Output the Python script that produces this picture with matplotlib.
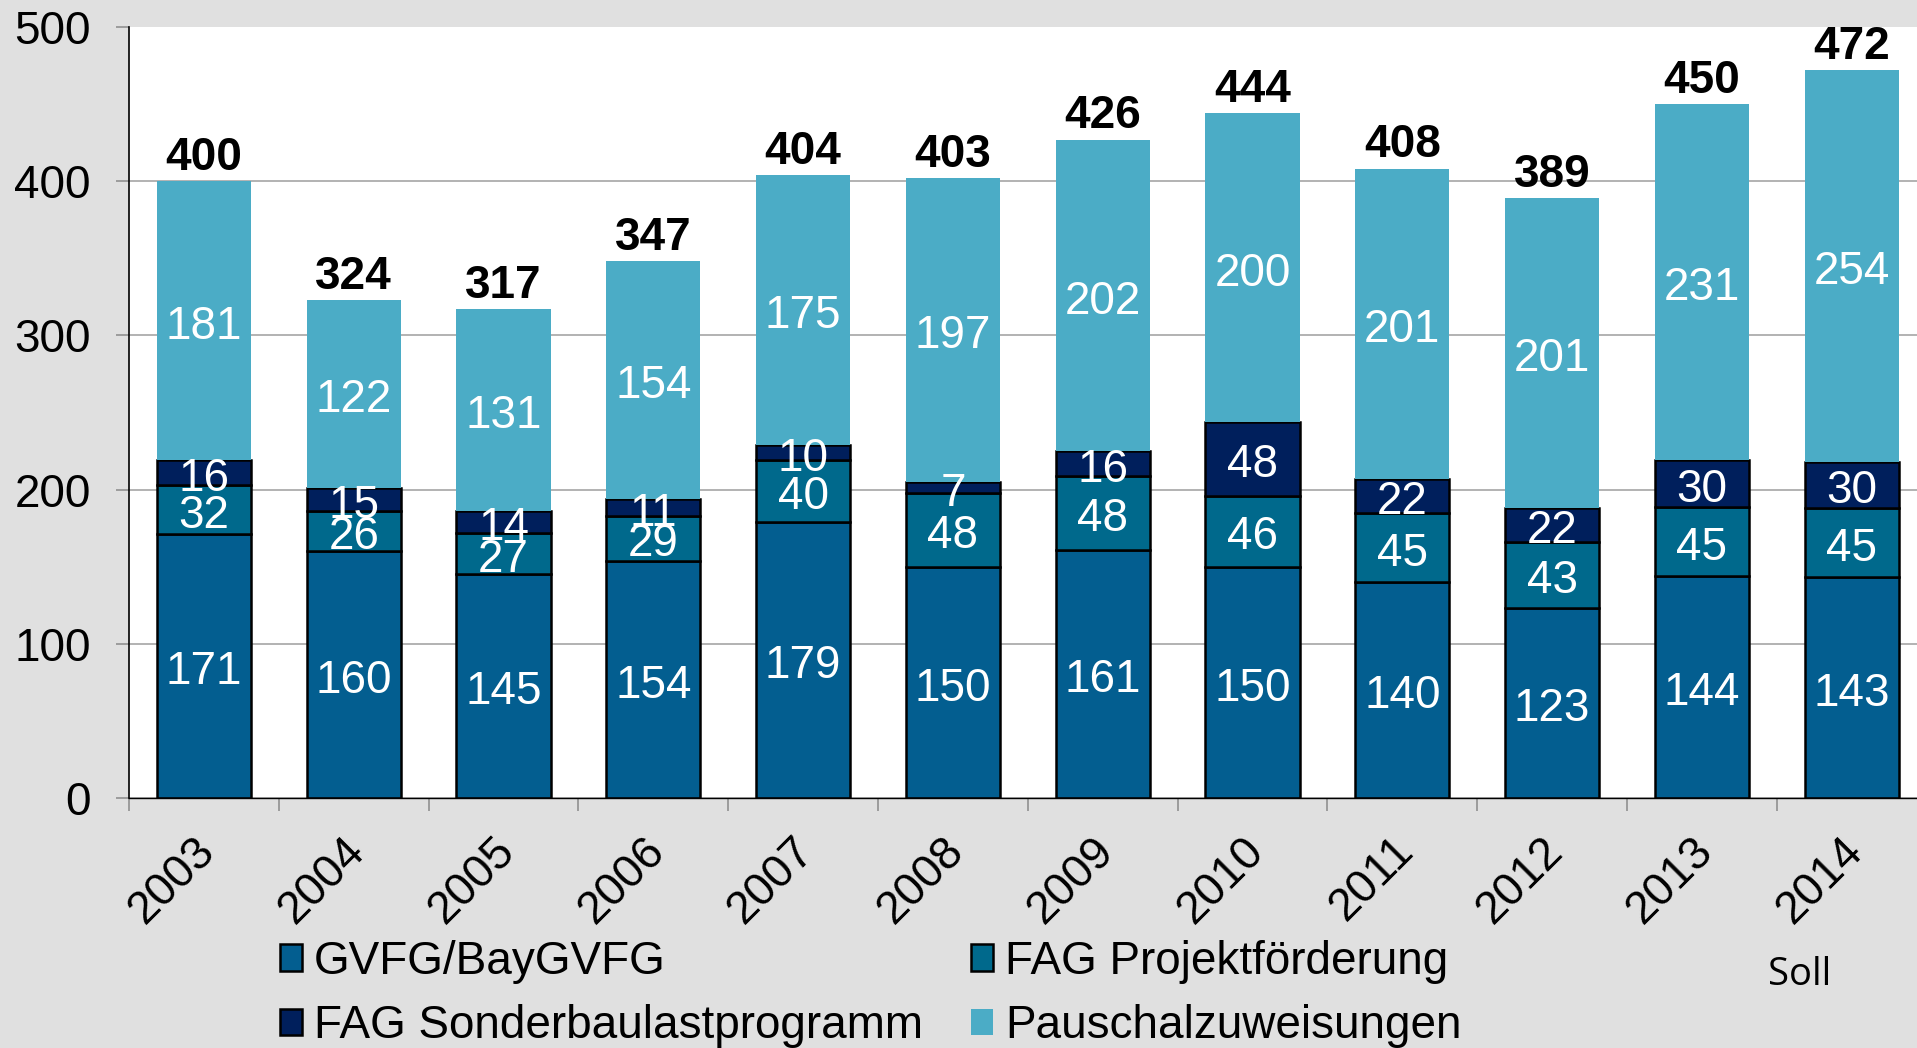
import matplotlib
matplotlib.use("Agg")
import matplotlib.pyplot as plt
import matplotlib.transforms as mtransforms
import numpy as np
from matplotlib.patches import Patch

years = ["2003", "2004", "2005", "2006", "2007", "2008",
         "2009", "2010", "2011", "2012", "2013", "2014"]
gvfg = [171, 160, 145, 154, 179, 150, 161, 150, 140, 123, 144, 143]
fag_projekt = [32, 26, 27, 29, 40, 48, 48, 46, 45, 43, 45, 45]
fag_sonder = [16, 15, 14, 11, 10, 7, 16, 48, 22, 22, 30, 30]
pauschal = [181, 122, 131, 154, 175, 197, 202, 200, 201, 201, 231, 254]
totals = [400, 324, 317, 347, 404, 403, 426, 444, 408, 389, 450, 472]

names = ["GVFG/BayGVFG", "FAG Projektförderung",
         "FAG Sonderbaulastprogramm", "Pauschalzuweisungen"]
colors = ["#035E90", "#00698C", "#001F5C", "#4BACC6"]

plt.rcParams["font.family"] = ["Liberation Sans", "DejaVu Sans"]

W, H = 1917, 1048
fig = plt.figure(figsize=(W / 100, H / 100), dpi=100, facecolor="#E0E0E0")
ax = fig.add_axes([129 / W, 1 - 798 / H, (W - 129) / W, 771 / H])
ax.set_facecolor("white")

x = np.arange(len(years))
width = 0.63
series = [gvfg, fag_projekt, fag_sonder, pauschal]
bottom = np.zeros(len(years))
containers = []
for i, vals in enumerate(series):
    edge = "black" if i < 3 else "none"
    c = ax.bar(x, vals, width, bottom=bottom, color=colors[i],
               edgecolor=edge, linewidth=1.8 if i < 3 else 0, zorder=2)
    containers.append(c)
    txts = ax.bar_label(c, label_type="center", color="white", fontsize=33, zorder=3)
    # nudge down so the digits sit visually centred like the original
    for t in txts:
        t.xyann = (0, -4.5)
    bottom += np.array(vals)

ax.bar_label(containers[-1], labels=[str(t) for t in totals], padding=1,
             fontsize=33, fontweight="bold", color="black")

ax.set_yticks([0, 100, 200, 300, 400, 500])
ax.tick_params(axis="y", length=9.5, width=1.2, color="#909090",
               labelsize=33, pad=18)
ax.yaxis.grid(True, color="#A6A6A6", linewidth=1.2, zorder=0)
ax.set_axisbelow(True)
ax.get_ygridlines()[-1].set_visible(False)

ax.set_xticks(x)
ax.set_xticklabels(years, rotation=45, ha="right", va="top",
                   rotation_mode="anchor", fontsize=33)
ax.tick_params(axis="x", which="major", length=0, pad=22)
ax.set_xticks(np.arange(-0.5, len(years), 1), minor=True)
ax.tick_params(axis="x", which="minor", length=9.5, width=1.2, color="#909090")
offset = mtransforms.ScaledTranslation(-11 / 100, 0, fig.dpi_scale_trans)
for lbl in ax.get_xticklabels():
    lbl.set_transform(lbl.get_transform() + offset)

# limits after ticks, otherwise set_xticks widens the view
ax.set_xlim(-0.5, (W - 129) / 149.8 - 0.5)
ax.set_ylim(0, 500)

for s in ["top", "right"]:
    ax.spines[s].set_visible(False)
ax.spines["left"].set_linewidth(1.2)
ax.spines["bottom"].set_linewidth(1.0)

handles = [
    Patch(facecolor=colors[0], edgecolor="black", linewidth=1.8),
    Patch(facecolor=colors[2], edgecolor="black", linewidth=1.8),
    Patch(facecolor=colors[1], edgecolor="black", linewidth=1.8),
    Patch(facecolor=colors[3], edgecolor="none"),
]
labels = [names[0], names[2], names[1], names[3]]
fig.legend(handles, labels, loc="upper left", bbox_to_anchor=(280 / W, 1 - 940 / H),
           ncol=2, frameon=False, fontsize=33, handlelength=0.48,
           handleheight=0.52, handletextpad=0.26, columnspacing=1.05,
           labelspacing=0.44, borderpad=0, borderaxespad=0)

fig.text(1768 / W, 1 - 985 / H, "Soll", fontsize=27.5, family=["Open Sans", "DejaVu Sans"],
         ha="left", va="baseline")

fig.savefig("out.png", dpi=100, facecolor=fig.get_facecolor())
